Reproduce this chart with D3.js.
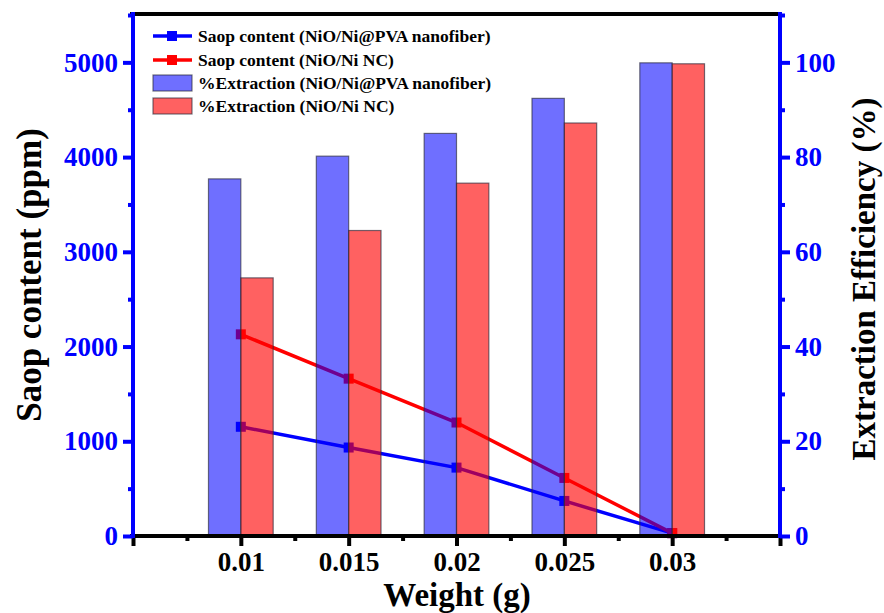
<!DOCTYPE html>
<html>
<head>
<meta charset="utf-8">
<script src="https://cdn.jsdelivr.net/npm/d3@7"></script>
<style>
  html, body { margin: 0; padding: 0; background: #fff; }
  svg { display: block; }
  text { font-family: "Liberation Serif", "Times New Roman", serif; font-weight: bold; }
</style>
</head>
<body>
<svg id="chart" width="884" height="613"></svg>
<script>
// Adsorbent dose (g)
const weights = [0.01, 0.015, 0.02, 0.025, 0.03];
const weightTicks = [0.01, 0.015, 0.02, 0.025, 0.03];
const weightTickLabels = ["0.01", "0.015", "0.02", "0.025", "0.03"];

// Residual soap content (ppm), left axis
const soapNanofiber = [1153, 934, 722, 370, 30];
const soapNC = [2129, 1661, 1198, 613, 30];

// Extraction efficiency (%), right axis
const extractionNanofiber = [75.4, 80.2, 85.0, 92.4, 99.9];
const extractionNC = [54.5, 64.5, 74.5, 87.2, 99.7];

const soapTicks = [0, 1000, 2000, 3000, 4000, 5000];
const effTicks = [0, 20, 40, 60, 80, 100];

const legendLabels = [
  "Saop content (NiO/Ni@PVA nanofiber)",
  "Saop content (NiO/Ni NC)",
  "%Extraction (NiO/Ni@PVA nanofiber)",
  "%Extraction (NiO/Ni NC)"
];

const svg = d3.select("#chart");
const plotL = 133, plotR = 780, plotT = 14, plotB = 536;

const x = d3.scaleLinear().domain([0.005, 0.035]).range([plotL, plotR]);
const ySoap = d3.scaleLinear().domain([0, 5500]).range([plotB, plotT + 1]);
const yEff = d3.scaleLinear().domain([0, 110]).range([plotB, plotT + 1]);

const barW = x(0.01 + 0.0015) - x(0.01);

// Soap content lines with square markers (drawn beneath the translucent bars)
const lineGen = d3.line().x((d, i) => x(weights[i])).y(d => ySoap(d));
function drawSeries(vals, color) {
  const g = svg.append("g");
  g.append("path").datum(vals)
    .attr("d", lineGen)
    .attr("fill", "none")
    .attr("stroke", color)
    .attr("stroke-width", 3.5);
  g.selectAll("rect").data(vals).enter().append("rect")
    .attr("x", (d, i) => x(weights[i]) - 5)
    .attr("y", d => ySoap(d) - 5)
    .attr("width", 10).attr("height", 10)
    .attr("fill", color);
}
drawSeries(soapNanofiber, "#0000ff");
drawSeries(soapNC, "#ff0000");

// Extraction efficiency bars
function drawBars(vals, color, opacity, offset) {
  svg.append("g").selectAll("rect").data(vals).enter().append("rect")
    .attr("x", (d, i) => x(weights[i]) + offset)
    .attr("y", d => yEff(d))
    .attr("width", barW)
    .attr("height", d => plotB - yEff(d))
    .attr("fill", color)
    .attr("fill-opacity", opacity)
    .attr("stroke", "#2a2a3a")
    .attr("stroke-opacity", 0.65)
    .attr("stroke-width", 1.2);
}
drawBars(extractionNanofiber, "#0000ff", 0.565, -barW);
drawBars(extractionNC, "#ff0000", 0.62, 0);

// Axes
const leftAxis = d3.axisLeft(ySoap).tickValues(soapTicks).tickSize(10).tickPadding(5).tickFormat(d3.format("d"));
const leftMinor = d3.axisLeft(ySoap).tickValues(d3.range(500, 5501, 1000)).tickSize(5).tickFormat("");
const rightAxis = d3.axisRight(yEff).tickValues(effTicks).tickSize(10).tickPadding(5).tickFormat(d3.format("d"));
const rightMinor = d3.axisRight(yEff).tickValues(d3.range(10, 111, 20)).tickSize(5).tickFormat("");
const bottomAxis = d3.axisBottom(x).tickValues(weightTicks).tickSize(10).tickPadding(6)
  .tickFormat((d, i) => weightTickLabels[i]);
const bottomEnds = d3.axisBottom(x).tickValues([0.005, 0.035]).tickSize(10).tickFormat("");
const bottomMinor = d3.axisBottom(x).tickValues(d3.range(0, 6).map(i => 0.0075 + i * 0.005)).tickSize(5).tickFormat("");

function styleAxis(g, color, size) {
  g.select(".domain").remove();
  g.selectAll("line").attr("stroke", color).attr("stroke-width", 4);
  g.selectAll("text").attr("fill", color).attr("font-size", size + "px")
    .style("font-family", "'Liberation Serif', 'Times New Roman', serif").style("font-weight", "bold");
}

// Frame lines
svg.append("line").attr("x1", plotL - 3).attr("x2", plotR + 2).attr("y1", plotT).attr("y2", plotT)
  .attr("stroke", "#000").attr("stroke-width", 4);
svg.append("line").attr("x1", plotL - 3).attr("x2", plotR + 2).attr("y1", plotB).attr("y2", plotB)
  .attr("stroke", "#000").attr("stroke-width", 4);

const gb = svg.append("g").attr("transform", `translate(0,${plotB})`).call(bottomAxis);
styleAxis(gb, "#000", 27);
styleAxis(svg.append("g").attr("transform", `translate(0,${plotB})`).call(bottomEnds), "#000", 27);
styleAxis(svg.append("g").attr("transform", `translate(0,${plotB})`).call(bottomMinor), "#000", 27);

svg.append("line").attr("x1", plotL).attr("x2", plotL).attr("y1", plotT - 2).attr("y2", plotB + 2)
  .attr("stroke", "#0000ff").attr("stroke-width", 4);
svg.append("line").attr("x1", plotR).attr("x2", plotR).attr("y1", plotT - 2).attr("y2", plotB + 2)
  .attr("stroke", "#0000ff").attr("stroke-width", 4);

styleAxis(svg.append("g").attr("transform", `translate(${plotL},0)`).call(leftAxis), "#0000ff", 27);
styleAxis(svg.append("g").attr("transform", `translate(${plotL},0)`).call(leftMinor), "#0000ff", 27);
styleAxis(svg.append("g").attr("transform", `translate(${plotR},0)`).call(rightAxis), "#0000ff", 27);
styleAxis(svg.append("g").attr("transform", `translate(${plotR},0)`).call(rightMinor), "#0000ff", 27);

// Axis titles
svg.append("text")
  .attr("transform", `translate(41,${(plotT + plotB) / 2}) rotate(-90)`)
  .attr("text-anchor", "middle")
  .attr("font-size", "35px").attr("fill", "#000")
  .text("Saop content (ppm)");
svg.append("text")
  .attr("transform", `translate(852,${(plotT + plotB) / 2 + 4}) rotate(-90)`)
  .attr("text-anchor", "middle").attr("dominant-baseline", "hanging")
  .attr("font-size", "33px").attr("fill", "#000")
  .text("Extraction Efficiency (%)");
svg.append("text")
  .attr("x", 457).attr("y", 606)
  .attr("text-anchor", "middle")
  .attr("font-size", "33px").attr("fill", "#000")
  .text("Weight (g)");

// Legend
const legendY = [36, 60, 83, 106];
const lg = svg.append("g");
["#0000ff", "#ff0000"].forEach((c, i) => {
  lg.append("line").attr("x1", 153).attr("x2", 192)
    .attr("y1", legendY[i]).attr("y2", legendY[i])
    .attr("stroke", c).attr("stroke-width", 3.5);
  lg.append("rect").attr("x", 167).attr("y", legendY[i] - 5)
    .attr("width", 10).attr("height", 10).attr("fill", c);
});
[["#0000ff", 0.565], ["#ff0000", 0.62]].forEach(([c, o], j) => {
  const i = j + 2;
  lg.append("rect").attr("x", 153).attr("y", legendY[i] - 8)
    .attr("width", 39).attr("height", 16)
    .attr("fill", c).attr("fill-opacity", o)
    .attr("stroke", "#2a2a3a").attr("stroke-opacity", 0.65).attr("stroke-width", 1.2);
});
legendLabels.forEach((t, i) => {
  lg.append("text").attr("x", 198).attr("y", legendY[i])
    .attr("dy", "0.35em").attr("font-size", "17.5px").attr("fill", "#000")
    .text(t);
});
</script>
</body>
</html>
